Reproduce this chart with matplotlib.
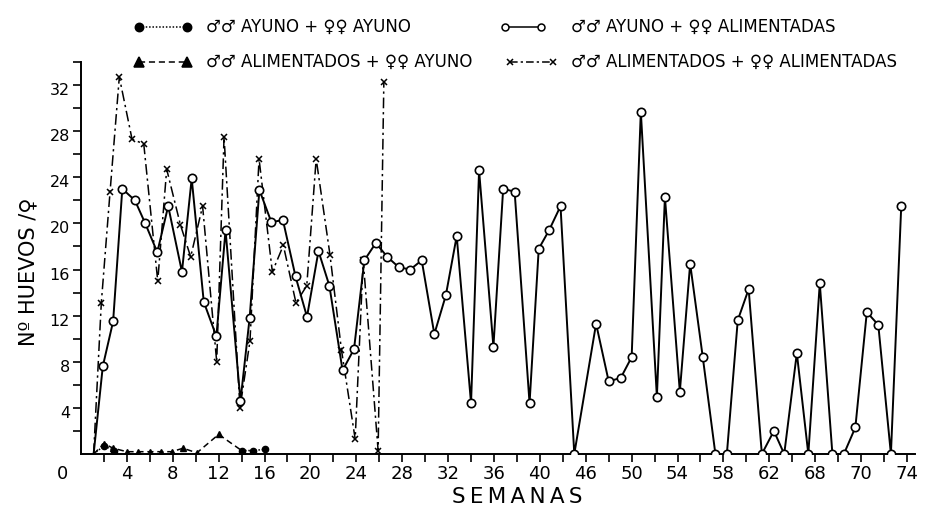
import numpy as np
import matplotlib
matplotlib.use("Agg")
import matplotlib.pyplot as plt
from matplotlib.lines import Line2D
from matplotlib.transforms import ScaledTranslation

# ---------------- data ----------------
# ♂♂ ayuno + ♀♀ alimentadas  (open circles, solid)
weeks_al = [1.1, 1.9, 2.8, 3.6, 4.7, 5.6, 6.65, 7.6, 8.8, 9.65,
            10.7, 11.8, 12.6, 13.9, 14.7, 15.55, 16.6, 17.6, 18.7, 19.7,
            20.7, 21.65, 22.8, 23.8, 24.7, 25.7, 26.7, 27.7, 28.7, 29.7,
            30.8, 31.8, 32.75, 34.0, 34.7, 35.95, 36.8, 37.8, 39.1, 39.9,
            40.8, 41.8, 43.0, 44.9, 46.0, 47.05, 48.0, 48.8, 50.2, 50.9,
            52.2, 53.1, 54.2, 55.3, 56.3, 57.25, 58.2, 59.35, 60.4, 61.3,
            62.4, 63.4, 64.4, 65.5, 66.5, 67.5, 68.5, 69.5, 70.6, 71.5]
eggs_al = [0, 7.6, 11.5, 23.0, 22.0, 20.0, 17.5, 21.5, 15.8, 23.9,
           13.2, 10.2, 19.4, 4.6, 11.8, 22.9, 20.1, 20.3, 15.4, 11.9,
           17.6, 14.6, 7.25, 9.1, 16.8, 18.3, 17.1, 16.2, 16.0, 16.8,
           10.4, 13.75, 18.9, 4.4, 24.6, 9.3, 23.0, 22.75, 4.4, 17.8,
           19.4, 21.5, 0, 11.3, 6.3, 6.6, 8.4, 29.7, 4.95, 22.3,
           5.4, 16.5, 8.4, 0, 0, 11.6, 14.3, 0, 2.0, 0,
           8.75, 0, 14.8, 0, 0, 2.3, 12.3, 11.2, 0, 21.5]

# ♂♂ alimentados + ♀♀ alimentadas  (x, dash-dot)
weeks_x = [1.1, 1.77, 2.53, 3.34, 4.45, 5.47, 6.69, 7.47, 8.66, 9.56,
           10.6, 11.83, 12.47, 13.86, 14.73, 15.52, 16.68, 17.64, 18.74, 19.68,
           20.5, 21.7, 22.7, 23.9, 24.6, 25.9, 26.4]
eggs_x = [0, 13.1, 22.7, 32.7, 27.3, 26.9, 15.0, 24.7, 19.9, 17.1,
          21.5, 8.0, 27.5, 4.0, 9.8, 25.6, 15.8, 18.1, 13.1, 14.6,
          25.6, 17.3, 9.05, 1.3, 16.8, 0.3, 32.3]

# ♂♂ alimentados + ♀♀ ayuno  (filled triangles, dashed)
weeks_tri = [1.1, 2.0, 2.8, 4.0, 5.0, 6.0, 7.0, 7.9, 8.9, 10.1, 12.0, 14.0]
eggs_tri = [0, 0.9, 0.5, 0.2, 0.2, 0.2, 0.2, 0.2, 0.5, 0.1, 1.7, 0.3]

# ♂♂ ayuno + ♀♀ ayuno  (filled dots, dotted)
weeks_dot = [1.1, 2.0, 2.9, np.nan, 14.0, 15.0, 16.0]
eggs_dot = [0, 0.7, 0.3, np.nan, 0.3, 0.3, 0.4]

# axis ticks / labels
xtick_pos = list(range(4, 73, 4))
xtick_labels = ['4', '8', '12', '16', '20', '24', '28', '32', '36', '40',
                '46', '50', '54', '58', '62', '68', '70', '74']
ytick_pos = list(range(4, 33, 4))
ytick_labels = [str(v) for v in ytick_pos]

legend_labels = ['♂♂ AYUNO + ♀♀ AYUNO',
                 '♂♂ AYUNO + ♀♀ ALIMENTADAS',
                 '♂♂ ALIMENTADOS + ♀♀ AYUNO',
                 '♂♂ ALIMENTADOS + ♀♀ ALIMENTADAS']

# ---------------- figure ----------------
plt.rcParams['font.family'] = ['DejaVu Sans']
W, H = 928, 514
fig = plt.figure(figsize=(W / 100, H / 100), dpi=100)
ax = fig.add_axes([81 / W, (H - 454) / H, (915 - 81) / W, (454 - 62) / H])

ax.plot(weeks_x, eggs_x, color='black', lw=1.1, ls=(0, (7, 2.5, 1.5, 2.5)),
        marker='x', ms=5, mew=1.1, markevery=slice(1, None), zorder=3)
ax.plot(weeks_al, eggs_al, color='black', lw=1.4, ls='-',
        marker='o', ms=6, mfc='white', mec='black', mew=1.2,
        markevery=slice(1, None), zorder=4)
ax.plot(weeks_tri, eggs_tri, color='black', lw=1.1, ls=(0, (4, 2.5)),
        marker='^', ms=5, mfc='black', mec='black',
        markevery=slice(1, None), zorder=5)
ax.plot(weeks_dot, eggs_dot, color='black', lw=1.1, ls=(0, (1, 1.2)),
        marker='o', ms=4.5, mfc='black', mec='black',
        markevery=slice(1, None), zorder=5)

ax.set_xlim(0, 72.7)
ax.set_ylim(0, 34)
for s in ['top', 'right']:
    ax.spines[s].set_visible(False)
for s in ['left', 'bottom']:
    ax.spines[s].set_linewidth(1.4)

ax.set_xticks(xtick_pos)
ax.set_xticklabels(xtick_labels, fontsize=13)
ax.set_xticks(np.arange(2, 73, 4), minor=True)
ax.set_yticks(ytick_pos)
ax.set_yticklabels(ytick_labels, fontsize=11.5)
ax.set_yticks(np.arange(2, 35, 4), minor=True)
ax.tick_params(axis='x', which='both', direction='out', length=6, width=1.2, pad=2)
ax.tick_params(axis='y', which='both', direction='out', length=6, width=1.2, pad=2)
for lab in ax.get_yticklabels():
    lab.set_transform(lab.get_transform() + ScaledTranslation(0, -4 / 100, fig.dpi_scale_trans))

ax.text(-1.6, -0.028, '0', transform=ax.get_xaxis_transform(), fontsize=13,
        ha='center', va='top')

fig.text(517 / W, 1 - 497 / H, '\u2009'.join('SEMANAS'), fontsize=15.5,
         ha='center', va='center')
fig.text(28 / W, 1 - 272 / H, 'Nº HUEVOS /♀', fontsize=15, rotation=90,
         ha='center', va='center')

# ---------------- hand-drawn legend ----------------
def fx(px):
    return px / W

def fy(py):
    return 1 - py / H

rows = [27, 62]
leg = [
    dict(x0=139, x1=187, y=rows[0], ls=(0, (1, 1.2)), marker='o', mfc='black', ms=6, label=legend_labels[0], tx=206),
    dict(x0=505, x1=541, y=rows[0], ls='-', marker='o', mfc='white', ms=5, label=legend_labels[1], tx=571),
    dict(x0=139, x1=187, y=rows[1], ls=(0, (4, 2.5)), marker='^', mfc='black', ms=7, label=legend_labels[2], tx=206),
    dict(x0=510, x1=553, y=rows[1], ls=(0, (5, 2, 1.5, 2)), marker='x', mfc='black', ms=5, label=legend_labels[3], tx=571),
]
for d in leg:
    fig.add_artist(Line2D([fx(d['x0']), fx(d['x1'])], [fy(d['y']), fy(d['y'])],
                          transform=fig.transFigure, color='black', lw=1.1, ls=d['ls'],
                          marker=d['marker'], ms=d['ms'], mfc=d['mfc'], mec='black', mew=1.1))
    fig.text(fx(d['tx']), fy(d['y']), d['label'], fontsize=12, ha='left', va='center')

fig.savefig('out.png', dpi=100, facecolor='white')
